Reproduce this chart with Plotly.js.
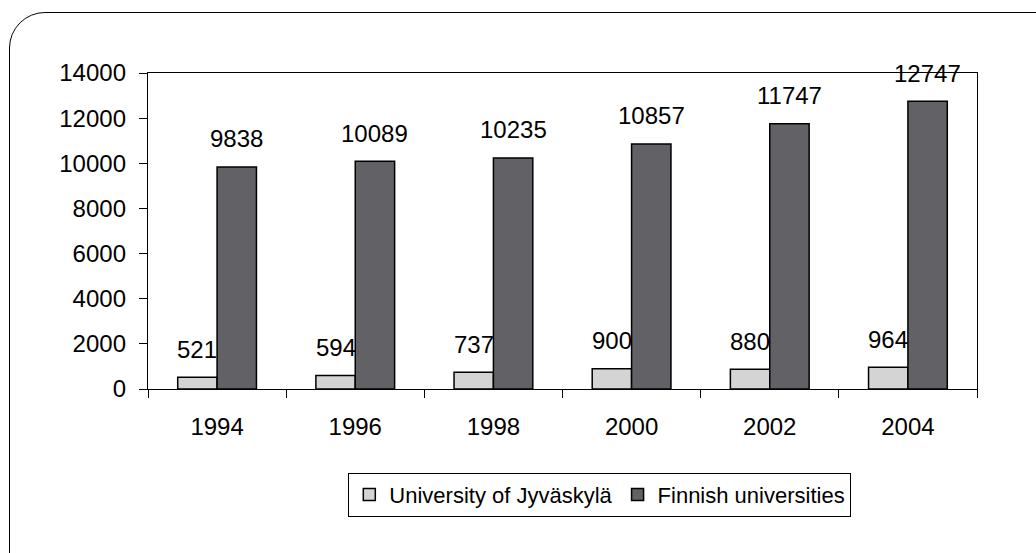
<!DOCTYPE html>
<html>
<head>
<meta charset="utf-8">
<script src="https://cdn.plot.ly/plotly-3.0.1.min.js"></script>
<style>
  html, body { margin: 0; padding: 0; background: #fff; overflow: hidden; }
  #frame { position: absolute; left: 9px; top: 12px; width: 1100px; height: 600px;
           border: 1.5px solid #000; border-radius: 36px; box-sizing: border-box; }
  #chart { position: absolute; left: 0; top: 0; width: 1036px; height: 553px; }
</style>
</head>
<body>
<div id="frame"></div>
<div id="chart"></div>
<script>
const years = ["1994", "1996", "1998", "2000", "2002", "2004"];
const jyvaskyla = [521, 594, 737, 900, 880, 964];
const finnish = [9838, 10089, 10235, 10857, 11747, 12747];
const seriesNames = ["University of Jyväskylä", "Finnish universities"];
const seriesColors = ["#d4d4d4", "#626266"];
const yTicks = [0, 2000, 4000, 6000, 8000, 10000, 12000, 14000];

const FONT = "Arial, 'Liberation Sans', sans-serif";
const FS = 24;
const bargap = 0.43;
const halfBar = (1 - bargap) / 4;

const traces = [jyvaskyla, finnish].map((vals, k) => ({
  type: "bar",
  name: seriesNames[k],
  x: years,
  y: vals,
  marker: { color: seriesColors[k], line: { color: "#000", width: 1.5 } },
  hoverinfo: "x+y"
}));

const annotations = [];
[jyvaskyla, finnish].forEach((vals, k) => {
  vals.forEach((v, i) => {
    annotations.push({
      x: i + (k === 0 ? -halfBar : halfBar),
      y: v,
      xref: "x", yref: "y",
      text: String(v),
      showarrow: false,
      yanchor: "middle",
      yshift: 28,
      font: { family: FONT, size: FS, color: "#000" }
    });
  });
});

const layout = {
  width: 1036, height: 553,
  margin: { l: 148, r: 59, t: 73, b: 164 },
  paper_bgcolor: "rgba(0,0,0,0)",
  plot_bgcolor: "rgba(0,0,0,0)",
  font: { family: FONT, size: FS, color: "#000" },
  barmode: "group",
  bargap: bargap,
  bargroupgap: 0,
  showlegend: true,
  legend: {
    orientation: "h",
    x: 0.545, xanchor: "center",
    y: -0.265, yanchor: "top",
    bordercolor: "#000", borderwidth: 1,
    font: { family: FONT, size: 22, color: "#000" },
    itemwidth: 30,
    traceorder: "normal"
  },
  xaxis: {
    type: "category",
    showline: true, linecolor: "#000", linewidth: 1.2,
    ticks: "outside", tickson: "boundaries", ticklen: 8, tickcolor: "#000",
    ticklabelstandoff: 16,
    showgrid: false, zeroline: false,
    tickfont: { family: FONT, size: FS },
    mirror: true
  },
  yaxis: {
    range: [0, 14000],
    tickvals: yTicks,
    ticktext: yTicks.map(String),
    showline: true, linecolor: "#000", linewidth: 1.2,
    ticks: "outside", ticklen: 8, tickcolor: "#000",
    ticklabelstandoff: 8,
    showgrid: false, zeroline: false,
    tickfont: { family: FONT, size: FS },
    mirror: true
  },
  annotations: annotations
};

Plotly.newPlot("chart", traces, layout, { displayModeBar: false, staticPlot: true });
</script>
</body>
</html>
